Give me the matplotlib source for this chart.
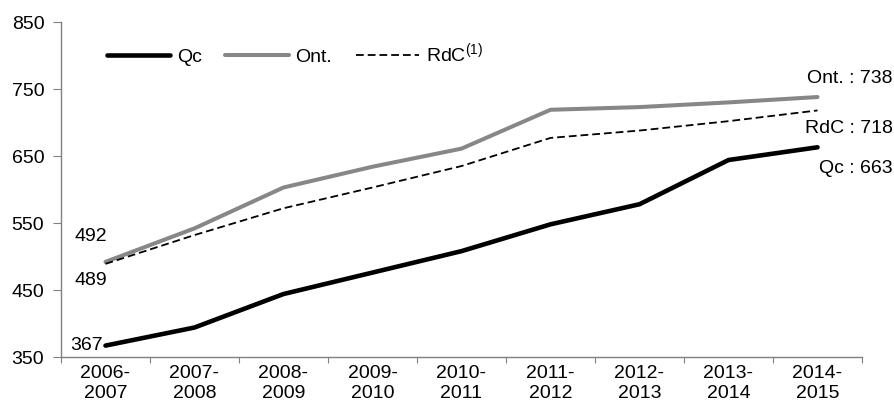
import numpy as np
import matplotlib
matplotlib.use("Agg")
import matplotlib.pyplot as plt

plt.rcParams['font.family'] = ['Liberation Sans', 'DejaVu Sans']

# data
years = ['2006-\n2007', '2007-\n2008', '2008-\n2009', '2009-\n2010', '2010-\n2011',
         '2011-\n2012', '2012-\n2013', '2013-\n2014', '2014-\n2015']
qc = [367, 394, 444, 476, 508, 548, 578, 644, 663]
ont = [492, 542, 603, 634, 661, 719, 723, 730, 738]
rdc = [489, 532, 572, 603, 635, 677, 688, 702, 718]

fs = 14
fig = plt.figure(figsize=(8.95, 4.13), dpi=100)
ax = fig.add_axes([61/895, 1-357/413, (862-61)/895, (357-22)/413])

x = np.arange(len(years))
l1, = ax.plot(x, qc, color='black', lw=3.3, solid_capstyle='round', label='Qc')
l2, = ax.plot(x, ont, color='#878787', lw=2.9, solid_capstyle='round', label='Ont.')
l3, = ax.plot(x, rdc, color='black', lw=1.3, dashes=(4.3, 2.2), label='RdC$^{\\mathregular{(1)}}$')

ax.set_xlim(-0.5, len(years) - 0.5)
ax.set_ylim(350, 850)
ax.set_yticks([350, 450, 550, 650, 750, 850])

ax.set_xticks(np.arange(-0.5, len(years)), labels=[''] * (len(years) + 1))
ax.set_xticks(x, labels=years, minor=True)
ax.tick_params(axis='x', which='minor', length=0, pad=6)
ax.tick_params(axis='x', which='major', length=4, color='#808080')
ax.tick_params(axis='y', length=6, color='#808080', pad=6)
ax.tick_params(which='both', labelsize=fs)
for s in ['top', 'right']:
    ax.spines[s].set_visible(False)
for s in ['left', 'bottom']:
    ax.spines[s].set_color('#808080')
    ax.spines[s].set_linewidth(1)

# value labels
kw = dict(textcoords='offset pixels', fontsize=fs, va='center')
ax.annotate(str(qc[0]), (x[0], qc[0]), xytext=(-3, 0), ha='right', **kw)
ax.annotate(str(ont[0]), (x[0], ont[0]), xytext=(-15, 25), ha='center', **kw)
ax.annotate(str(rdc[0]), (x[0], rdc[0]), xytext=(-15, -17), ha='center', **kw)
ax.annotate('Ont. : %d' % ont[-1], (x[-1], ont[-1]), xytext=(75, 19), ha='right', **kw)
ax.annotate('RdC : %d' % rdc[-1], (x[-1], rdc[-1]), xytext=(75, -18), ha='right', **kw)
ax.annotate('Qc : %d' % qc[-1], (x[-1], qc[-1]), xytext=(75, -21), ha='right', **kw)

fig.legend(handles=[l1, l2, l3], loc='center left', bbox_to_anchor=(107/895, 1-54/413),
           ncol=3, frameon=False, fontsize=fs, handlelength=3.25, handletextpad=0.36,
           columnspacing=1.2, borderpad=0, borderaxespad=0)

fig.savefig('out.png', dpi=100)
